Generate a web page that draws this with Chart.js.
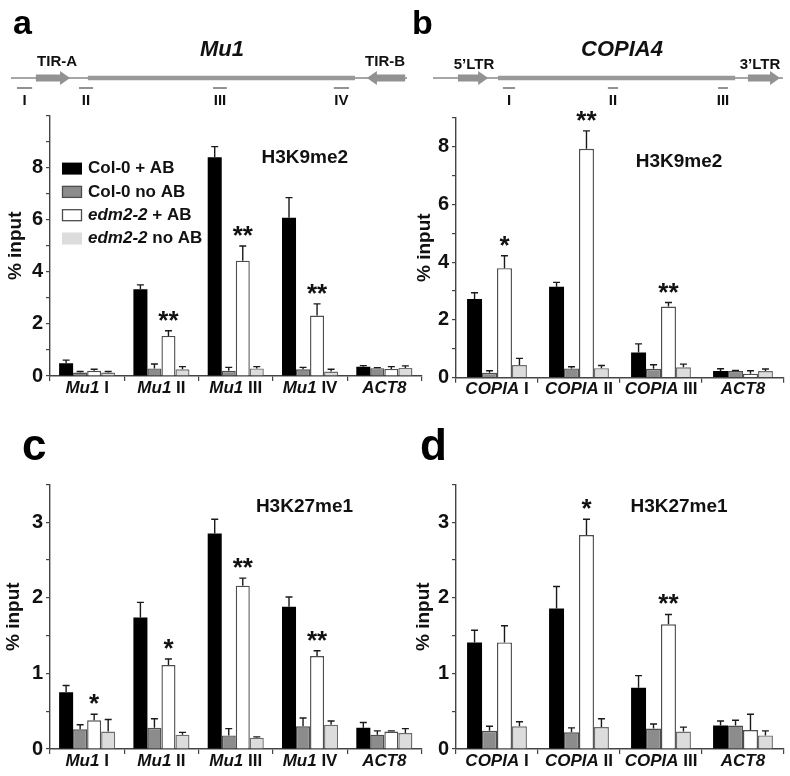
<!DOCTYPE html>
<html>
<head>
<meta charset="utf-8">
<title>Mu1 / COPIA4 ChIP</title>
<script src="https://cdn.jsdelivr.net/npm/chart.js@4.4.1/dist/chart.umd.min.js"></script>
<style>
  html, body { margin: 0; padding: 0; background: #fff; }
  #fig { position: relative; width: 790px; height: 776px; overflow: hidden; }
  #fig canvas { position: absolute; }
</style>
</head>
<body>
<div id="fig">
  <canvas id="pa" width="440" height="400" style="left:0px;top:0px"></canvas>
  <canvas id="pb" width="390" height="400" style="left:400px;top:0px"></canvas>
  <canvas id="pc" width="440" height="386" style="left:0px;top:390px"></canvas>
  <canvas id="pd" width="390" height="386" style="left:400px;top:390px"></canvas>
</div>
<script>
// ---------------------------------------------------------------------------
// categories
// ---------------------------------------------------------------------------
const mu1Genes = ["Mu1", "Mu1", "Mu1", "Mu1", "ACT8"];
const mu1Regions = ["I", "II", "III", "IV", ""];
const copiaGenes = ["COPIA", "COPIA", "COPIA", "ACT8"];
const copiaRegions = ["I", "II", "III", ""];

// series (legend text = italic part + plain part)
const seriesItalic = ["", "", "edm2-2", "edm2-2"];
const seriesPlain = ["Col-0 + AB", "Col-0 no AB", " + AB", " no AB"];
const seriesFill = ["#000000", "#8c8c8c", "#ffffff", "#dcdcdc"];
const seriesEdge = ["#000000", "#4d4d4d", "#4d4d4d", "#6e6e6e"];

// ---------------------------------------------------------------------------
// a: H3K9me2, Mu1   (mean, s.e.)
// ---------------------------------------------------------------------------
const aColAB = [0.49, 3.33, 8.40, 6.08, 0.36];
const aColNo = [0.13, 0.29, 0.20, 0.26, 0.30];
const aEdmAB = [0.20, 1.54, 4.43, 2.32, 0.27];
const aEdmNo = [0.13, 0.26, 0.29, 0.17, 0.31];
const aColABse = [0.12, 0.17, 0.41, 0.77, 0.04];
const aColNose = [0.04, 0.17, 0.13, 0.07, 0.02];
const aEdmABse = [0.06, 0.20, 0.56, 0.45, 0.09];
const aEdmNose = [0.04, 0.10, 0.07, 0.09, 0.08];
const aStars = ["", "**", "**", "**", ""];

// b: H3K9me2, COPIA4
const bColAB = [2.72, 3.15, 0.87, 0.23];
const bColNo = [0.17, 0.32, 0.31, 0.23];
const bEdmAB = [3.79, 7.92, 2.46, 0.14];
const bEdmNo = [0.44, 0.33, 0.36, 0.23];
const bColABse = [0.22, 0.15, 0.30, 0.08];
const bColNose = [0.07, 0.06, 0.14, 0.02];
const bEdmABse = [0.43, 0.62, 0.14, 0.10];
const bEdmNose = [0.23, 0.09, 0.11, 0.07];
const bStars = ["*", "**", "**", ""];

// c: H3K27me1, Mu1
const cColAB = [0.75, 1.74, 2.85, 1.88, 0.28];
const cColNo = [0.26, 0.28, 0.18, 0.30, 0.19];
const cEdmAB = [0.38, 1.11, 2.16, 1.23, 0.23];
const cEdmNo = [0.23, 0.19, 0.15, 0.32, 0.21];
const cColABse = [0.09, 0.20, 0.19, 0.13, 0.07];
const cColNose = [0.06, 0.12, 0.09, 0.11, 0.05];
const cEdmABse = [0.08, 0.08, 0.10, 0.07, 0.01];
const cEdmNose = [0.16, 0.03, 0.01, 0.05, 0.06];
const cStars = ["*", "*", "**", "**", ""];

// d: H3K27me1, COPIA4
const dColAB = [1.41, 1.86, 0.81, 0.31];
const dColNo = [0.24, 0.22, 0.27, 0.31];
const dEdmAB = [1.41, 2.83, 1.65, 0.25];
const dEdmNo = [0.30, 0.29, 0.23, 0.18];
const dColABse = [0.16, 0.29, 0.16, 0.06];
const dColNose = [0.06, 0.06, 0.06, 0.07];
const dEdmABse = [0.22, 0.21, 0.13, 0.21];
const dEdmNose = [0.06, 0.11, 0.06, 0.06];
const dStars = ["", "*", "**", ""];

// ---------------------------------------------------------------------------
// element maps (percent of the x axis length, 0 = left end, 100 = right end)
// ---------------------------------------------------------------------------
const mu1Backbone = [-10.5, 96.1];
const mu1Body = [10.2, 82.1];
const mu1ArrowTail = [-3.8, 95.6];
const mu1ArrowTip = [5.4, 85.3];
const mu1ArrowNames = ["TIR-A", "TIR-B"];
const mu1ArrowNameAt = [1.9, 90.2];
const mu1AmpStart = [-8.9, 7.8, 43.9, 76.4];
const mu1AmpEnd = [-4.8, 11.6, 47.6, 80.5];
const mu1AmpNames = ["I", "II", "III", "IV"];

const copBackbone = [-7.0, 99.7];
const copBody = [12.8, 85.1];
const copArrowTail = [0.6, 89.0];
const copArrowTip = [9.8, 98.8];
const copArrowNames = ["5\u2019LTR", "3\u2019LTR"];
const copArrowNameAt = [5.5, 92.7];
const copAmpStart = [14.3, 46.3, 79.9];
const copAmpEnd = [18.0, 49.4, 82.9];
const copAmpNames = ["I", "II", "III"];

// ---------------------------------------------------------------------------
const FONT = "'Liberation Sans', Arial, Helvetica, sans-serif";
const INK = "#111111";
const AXIS = "#444444";

function mixedWidth(ctx, italic, plain, size) {
  ctx.font = `italic bold ${size}px ${FONT}`;
  const wi = italic ? ctx.measureText(italic).width : 0;
  ctx.font = `bold ${size}px ${FONT}`;
  const wp = plain ? ctx.measureText(plain).width : 0;
  return [wi, wp];
}

function drawMixed(ctx, italic, plain, x, y, size, align) {
  const [wi, wp] = mixedWidth(ctx, italic, plain, size);
  const sx = align === "center" ? x - (wi + wp) / 2 : x;
  ctx.textAlign = "left";
  ctx.textBaseline = "middle";
  ctx.fillStyle = INK;
  if (italic) {
    ctx.font = `italic bold ${size}px ${FONT}`;
    ctx.fillText(italic, sx, y);
  }
  if (plain) {
    ctx.font = `bold ${size}px ${FONT}`;
    ctx.fillText(plain, sx + wi, y);
  }
}

function drawArrow(ctx, tail, tip, y) {
  const dir = tip > tail ? 1 : -1;
  const headLen = 10, bodyH = 3.5, headH = 7;
  const base = tip - dir * headLen;
  ctx.beginPath();
  ctx.moveTo(tail, y - bodyH);
  ctx.lineTo(base, y - bodyH);
  ctx.lineTo(base, y - headH);
  ctx.lineTo(tip, y);
  ctx.lineTo(base, y + headH);
  ctx.lineTo(base, y + bodyH);
  ctx.lineTo(tail, y + bodyH);
  ctx.closePath();
  ctx.fill();
}

function decorPlugin(p) {
  return {
    id: "decor",
    afterDatasetsDraw(chart) {
      const ctx = chart.ctx;
      const y = chart.scales.y;
      ctx.save();
      // error bars (upper only)
      ctx.strokeStyle = "#1a1a1a";
      ctx.lineWidth = 1.4;
      chart.data.datasets.forEach((ds, di) => {
        const meta = chart.getDatasetMeta(di);
        meta.data.forEach((bar, i) => {
          const top = y.getPixelForValue(ds.data[i] + p.se[di][i]);
          ctx.beginPath();
          ctx.moveTo(bar.x, bar.y);
          ctx.lineTo(bar.x, top);
          ctx.moveTo(bar.x - 3.5, top);
          ctx.lineTo(bar.x + 3.5, top);
          ctx.stroke();
        });
      });
      // significance stars over edm2-2 + AB
      const meta = chart.getDatasetMeta(2);
      const ds = chart.data.datasets[2];
      ctx.fillStyle = INK;
      ctx.font = `bold 26px ${FONT}`;
      ctx.textAlign = "center";
      ctx.textBaseline = "alphabetic";
      p.stars.forEach((s, i) => {
        if (!s) return;
        const bar = meta.data[i];
        const top = y.getPixelForValue(ds.data[i] + p.se[2][i]);
        ctx.fillText(s, bar.x, top - 2);
      });
      ctx.restore();
    },
    afterDraw(chart) {
      const ctx = chart.ctx;
      const x = chart.scales.x, y = chart.scales.y;
      const area = chart.chartArea;
      ctx.save();
      // panel letter
      ctx.fillStyle = "#000";
      ctx.font = `bold ${p.letterSize}px ${FONT}`;
      ctx.textAlign = "left";
      ctx.textBaseline = "alphabetic";
      ctx.fillText(p.letter, p.letterPos[0], p.letterPos[1]);
      // category labels
      p.genes.forEach((g, i) => {
        const cx = x.getPixelForValue(i);
        drawMixed(ctx, g, p.regions[i] ? " " + p.regions[i] : "", cx, area.bottom + 12, 17, "center");
      });
      // mark label
      ctx.fillStyle = INK;
      ctx.font = `bold 19px ${FONT}`;
      ctx.textAlign = "center";
      ctx.textBaseline = "middle";
      ctx.fillText(p.mark, x.getPixelForDecimal(p.markAt[0]), y.getPixelForValue(p.markAt[1]));
      // legend
      if (p.legend) {
        const lx = area.left + 12, ly0 = area.top + 53;
        seriesPlain.forEach((t, i) => {
          const cy = ly0 + i * 23.3;
          ctx.fillStyle = seriesFill[i];
          ctx.fillRect(lx, cy - 6, 20, 12);
          if (i === 1 || i === 2) {
            ctx.strokeStyle = seriesEdge[i];
            ctx.lineWidth = 1.3;
            ctx.strokeRect(lx + 0.5, cy - 5.5, 19, 11);
          }
          drawMixed(ctx, seriesItalic[i], t, lx + 26, cy, 17, "left");
        });
      }
      // element map, positioned along the x axis
      if (p.map) {
        const m = p.map;
        const px = v => x.getPixelForDecimal(v / 100);
        const ly = 78;
        ctx.lineCap = "butt";
        ctx.strokeStyle = "#a6a6a6";
        ctx.lineWidth = 2;
        ctx.beginPath();
        ctx.moveTo(px(m.backbone[0]), ly);
        ctx.lineTo(px(m.backbone[1]), ly);
        ctx.stroke();
        ctx.strokeStyle = "#999999";
        ctx.lineWidth = 4.5;
        ctx.beginPath();
        ctx.moveTo(px(m.body[0]), ly);
        ctx.lineTo(px(m.body[1]), ly);
        ctx.stroke();
        ctx.fillStyle = "#929292";
        m.tail.forEach((t, i) => drawArrow(ctx, px(t), px(m.tip[i]), ly));
        ctx.fillStyle = INK;
        ctx.font = `bold 15px ${FONT}`;
        ctx.textAlign = "center";
        ctx.textBaseline = "middle";
        m.names.forEach((n, i) => ctx.fillText(n, px(m.nameAt[i]), m.nameY));
        ctx.font = `italic bold 22px ${FONT}`;
        ctx.fillText(m.title, px(m.titleAt), 50);
        ctx.strokeStyle = "#777";
        ctx.lineWidth = 1.6;
        m.ampStart.forEach((a, i) => {
          ctx.beginPath();
          ctx.moveTo(px(a), 88);
          ctx.lineTo(px(m.ampEnd[i]), 88);
          ctx.stroke();
          ctx.font = `bold 15px ${FONT}`;
          ctx.fillText(m.ampNames[i], px((a + m.ampEnd[i]) / 2), 101);
        });
      }
      ctx.restore();
    }
  };
}

function buildPanel(id, p) {
  const datasets = p.values.map((vals, i) => ({
    label: (seriesItalic[i] + seriesPlain[i]).trim(),
    data: vals,
    backgroundColor: seriesFill[i],
    borderColor: seriesEdge[i],
    borderWidth: i === 0 ? 0 : 1.4,
    barPercentage: 1.0,
    categoryPercentage: p.catPct
  }));
  return new Chart(document.getElementById(id), {
    type: "bar",
    data: { labels: p.genes.map((g, i) => (g + " " + p.regions[i]).trim()), datasets },
    options: {
      responsive: false,
      animation: false,
      devicePixelRatio: 1,
      layout: { padding: p.pad },
      plugins: { legend: { display: false }, tooltip: { enabled: false } },
      scales: {
        x: {
          offset: true,
          ticks: { display: false },
          grid: { offset: true, drawOnChartArea: false, drawTicks: true, tickLength: 5, color: AXIS, lineWidth: 1.2 },
          border: { color: AXIS, width: 1.4 },
          afterFit: s => { s.height = p.xHeight; }
        },
        y: {
          min: 0,
          max: p.yMax,
          ticks: {
            stepSize: p.yStep,
            autoSkip: false,
            padding: 3,
            color: INK,
            font: { family: FONT, size: 20, weight: "bold" },
            callback: v => {
              if (v >= p.yMax) return "";
              const k = v / p.yLabelStep;
              return Math.abs(k - Math.round(k)) < 1e-6 ? String(v) : "";
            }
          },
          grid: { drawOnChartArea: false, drawTicks: true, tickLength: 4, color: AXIS, lineWidth: 1.2 },
          border: { color: AXIS, width: 1.4 },
          title: {
            display: true,
            text: "% input",
            color: INK,
            font: { family: FONT, size: 19, weight: "bold" },
            padding: { top: p.titlePad, bottom: 0 }
          },
          afterFit: s => { s.width = p.yWidth; }
        }
      }
    },
    plugins: [decorPlugin(p)]
  });
}

buildPanel("pa", {
  letter: "a", letterSize: 34, letterPos: [13, 34],
  genes: mu1Genes, regions: mu1Regions,
  values: [aColAB, aColNo, aEdmAB, aEdmNo],
  se: [aColABse, aColNose, aEdmABse, aEdmNose],
  stars: aStars, mark: "H3K9me2", markAt: [0.686, 8.37], legend: true,
  yMax: 10, yStep: 1, yLabelStep: 2, catPct: 0.755,
  pad: { left: 0, top: 115.6, right: 18.5, bottom: 0 }, xHeight: 24, yWidth: 50, titlePad: 4,
  map: {
    backbone: mu1Backbone, body: mu1Body, tail: mu1ArrowTail, tip: mu1ArrowTip,
    names: mu1ArrowNames, nameAt: mu1ArrowNameAt, nameY: 62, title: "Mu1", titleAt: 46.3,
    ampStart: mu1AmpStart, ampEnd: mu1AmpEnd, ampNames: mu1AmpNames
  }
});

buildPanel("pb", {
  letter: "b", letterSize: 34, letterPos: [12, 34],
  genes: copiaGenes, regions: copiaRegions,
  values: [bColAB, bColNo, bEdmAB, bEdmNo],
  se: [bColABse, bColNose, bEdmABse, bEdmNose],
  stars: bStars, mark: "H3K9me2", markAt: [0.68, 7.46], legend: false,
  yMax: 9, yStep: 1, yLabelStep: 2, catPct: 0.73,
  pad: { left: 0, top: 117.6, right: 6, bottom: 0 }, xHeight: 22.3, yWidth: 56, titlePad: 13,
  map: {
    backbone: copBackbone, body: copBody, tail: copArrowTail, tip: copArrowTip,
    names: copArrowNames, nameAt: copArrowNameAt, nameY: 65, title: "COPIA4", titleAt: 50.6,
    ampStart: copAmpStart, ampEnd: copAmpEnd, ampNames: copAmpNames
  }
});

buildPanel("pc", {
  letter: "c", letterSize: 44, letterPos: [22, 70],
  genes: mu1Genes, regions: mu1Regions,
  values: [cColAB, cColNo, cEdmAB, cEdmNo],
  se: [cColABse, cColNose, cEdmABse, cEdmNose],
  stars: cStars, mark: "H3K27me1", markAt: [0.685, 3.21], legend: false,
  yMax: 3.5, yStep: 0.5, yLabelStep: 1, catPct: 0.755,
  pad: { left: 0, top: 94.4, right: 18.5, bottom: 0 }, xHeight: 27, yWidth: 50, titlePad: 2,
  map: null
});

buildPanel("pd", {
  letter: "d", letterSize: 44, letterPos: [20, 70],
  genes: copiaGenes, regions: copiaRegions,
  values: [dColAB, dColNo, dEdmAB, dEdmNo],
  se: [dColABse, dColNose, dEdmABse, dEdmNose],
  stars: dStars, mark: "H3K27me1", markAt: [0.68, 3.21], legend: false,
  yMax: 3.5, yStep: 0.5, yLabelStep: 1, catPct: 0.73,
  pad: { left: 0, top: 94.4, right: 6, bottom: 0 }, xHeight: 27, yWidth: 56, titlePad: 12,
  map: null
});
</script>
</body>
</html>
